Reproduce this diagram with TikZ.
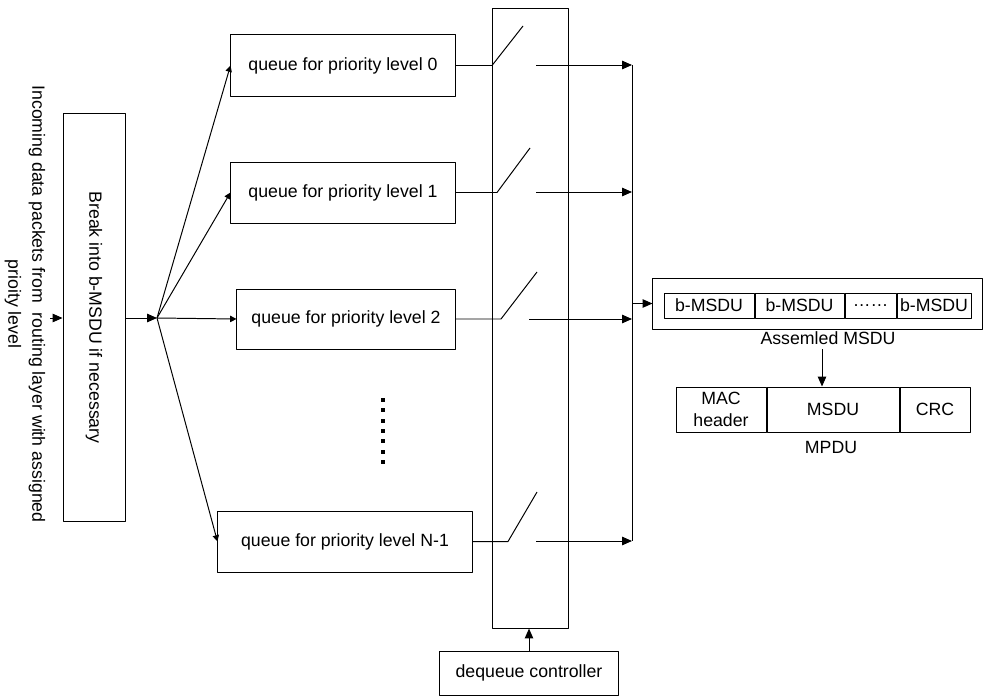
\documentclass[tikz,border=0pt]{standalone}
\usepackage{fontspec}
\setmainfont{Liberation Sans}
\usetikzlibrary{arrows.meta}
\begin{document}
\begin{tikzpicture}[x=0.025cm, y=-0.025cm, line width=0.7pt, line join=round,
  >={Triangle[length=7pt,width=6pt]}, font=\fontsize{12.6}{15.5}\selectfont,
  blk/.style={draw, inner sep=0pt, align=center},
  fan/.style={-{Triangle[length=4.5pt,width=4.5pt]}}]
\useasboundingbox (0,0) rectangle (984,696);
% incoming packets and splitting
\node[rotate=-90, align=center, font=\fontsize{12.6}{17}\selectfont] (inc) at (25,304)
  {Incoming data packets from\ \ routing layer with assigned\\prioity level};
\node[blk, rotate=-90, minimum width=10.175cm, minimum height=1.55cm] (brk) at (94,317.5) {Break into b-MSDU if necessary};
\coordinate (src) at (50,318);
\coordinate (j) at (157,318);
\draw[->] (src) -- (src -| brk.south);
\draw[->] (brk.north |- j) -- (j);
% queues
\node[blk, minimum width=5.6cm, minimum height=1.525cm] (q0) at (343,65.5) {queue for priority level 0};
\node[blk, minimum width=5.6cm, minimum height=1.525cm] (q1) at (343,192.5) {queue for priority level 1};
\node[blk, minimum width=5.45cm, minimum height=1.5cm] (q2) at (346,319) {queue for priority level 2};
\node[blk, minimum width=6.35cm, minimum height=1.525cm] (q3) at (345,541.5) {queue for priority level N-1};
\foreach \q in {q0,q1,q2,q3} \draw[fan] (j) -- (\q.west);
\foreach \k in {0,...,6} \fill (381,398+10.3*\k) rectangle ++(4,4);
% switches
\node[blk, minimum width=1.9cm, minimum height=15.475cm] (sw) at (530,318.5) {};
\foreach \q/\qy/\sx/\tx/\ty/\ox/\oy in {q0/65.5/492/523/26/536/65, q1/192.5/497/530/148/536/192,
    q2/319/501/537/272/529/319, q3/541.5/508/537/492/536/541} {
  \draw (\q.east) -- (\sx,\qy) -- (\tx,\ty);
  \draw[->] (\ox,\oy) coordinate (c\q) -- (632,\oy) coordinate (b\q);
}
\draw (bq0) -- (bq3);
\node[blk, minimum width=4.45cm, minimum height=1.1cm] (dq) at (529,673) {dequeue controller};
\draw[->] (dq.north) -- (dq.north |- sw.south);
% assembled MSDU
\node[blk, minimum width=8.225cm, minimum height=1.275cm] (asm) at (817.5,303.5) {};
\draw[->] (asm.west -| bq0) -- (asm.west);
\node[blk, minimum width=2.25cm, minimum height=0.625cm] (b1) at (709,305.5) {b-MSDU};
\node[blk, minimum width=2.225cm, minimum height=0.625cm, anchor=west] (b2) at (b1.east) {b-MSDU};
\node[blk, minimum width=1.275cm, minimum height=0.625cm, anchor=west] (b3) at (b2.east) {……};
\node[blk, minimum width=1.85cm, minimum height=0.625cm, anchor=west] (b4) at (b3.east) {b-MSDU};
\node (asml) at (828,338) {Assemled MSDU};
% MPDU
\node[blk, minimum width=2.25cm, minimum height=1.125cm] (mac) at (721,409.5) {MAC\\header};
\node[blk, minimum width=3.3cm, minimum height=1.125cm, anchor=west] (msdu) at (mac.east) {MSDU};
\node[blk, minimum width=1.75cm, minimum height=1.125cm, anchor=west] (crc) at (msdu.east) {CRC};
\coordinate (d) at (822,349);
\draw[->] (d) -- (d |- msdu.north);
\node (mpdu) at (831,447) {MPDU};
\end{tikzpicture}
\end{document}
